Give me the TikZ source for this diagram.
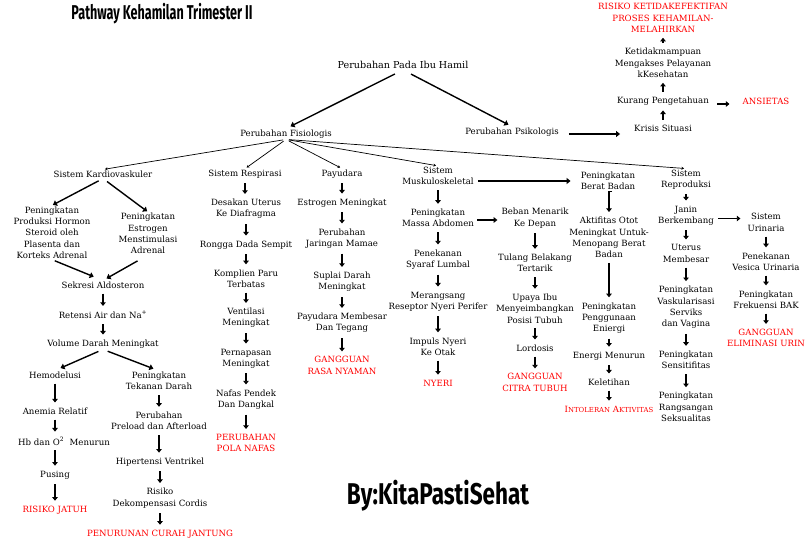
\documentclass[tikz,border=0pt]{standalone}
\usepackage{fontspec}
\setmainfont{DejaVu Serif}
\newfontfamily\headfont[FakeStretch=0.63]{Fira Sans}
\newfontfamily\byfont[FakeStretch=0.75]{Fira Sans}
\usetikzlibrary{arrows.meta}
\tikzset{
  txt/.style={font=\fontsize{8.6}{11.3}\selectfont, align=center, inner sep=1pt},
  rtxt/.style={txt, text=red},
  dn/.style={-{Triangle[length=3.6pt,width=5.5pt]}, line width=1.3pt, shorten <=4pt, shorten >=4pt},
  fan/.style={-{Stealth[length=2.6pt,width=3pt]}, line width=0.7pt},
  big/.style={-{Triangle[length=4pt,width=6pt]}, line width=1.4pt},
}
\newcommand{\vdn}[2]{\draw[dn] (#1.south) -- (#1.south |- #2.north);}
\newcommand{\vup}[2]{\draw[dn] (#1.north) -- (#1.north |- #2.south);}
\begin{document}
\begin{tikzpicture}[x=1pt,y=-1pt]
\useasboundingbox (0,0) rectangle (810,545);
% title
\node[inner sep=0pt] (title) at (162,14) {\headfont\bfseries\fontsize{20}{22}\selectfont Pathway Kehamilan Trimester II};
\node[inner sep=0pt] (by) at (438,496) {\byfont\bfseries\fontsize{30}{32}\selectfont By:KitaPastiSehat};

% top
\node[txt, font=\fontsize{9.6}{12}\selectfont] (top) at (403,65) {Perubahan Pada Ibu Hamil};
\node[txt] (fis) at (286,134) {Perubahan Fisiologis};
\node[txt] (psi) at (512,132) {Perubahan Psikologis};
\node[txt] (kri) at (663,128) {Krisis Situasi};
\node[txt] (kur) at (663,101) {Kurang Pengetahuan};
\node[rtxt] (ans) at (766,101) {ANSIETAS};
\node[txt] (ket) at (663,63) {Ketidakmampuan\\Mengakses Pelayanan\\kKesehatan};
\node[rtxt] (ris) at (663,18) {RISIKO KETIDAKEFEKTIFAN\\PROSES KEHAMILAN-\\MELAHIRKAN};

\draw[big, shorten <=9pt, shorten >=5pt] (top.south) -- (fis.north);
\draw[big, shorten <=9pt, shorten >=4pt] (top.south) -- (psi.north);
\draw[big, shorten <=9pt, shorten >=13pt] ([yshift=-2pt]psi.east) -- ([yshift=-2pt]psi.east -| kri.west);
\draw[dn, shorten <=7pt, shorten >=12pt] ([yshift=-3pt]kur.east) -- ([yshift=-3pt]kur.east -| ans.west);
\vup{kri}{kur}
\vup{kur}{ket}
\vup{ket}{ris}

% system row
\node[txt] (kar) at (103,174) {Sistem Kardiovaskuler};
\node[txt] (res) at (245,174) {Sistem Respirasi};
\node[txt] (pay) at (342,174) {Payudara};
\node[txt] (mus) at (438,176) {Sistem\\Muskuloskeletal};
\node[txt] (bbd) at (608,181) {Peningkatan\\Berat Badan};
\node[txt] (rep) at (686,179.5) {Sistem\\Reproduksi};

\foreach \t in {kar,res,pay,mus,rep}
  \draw[fan, shorten <=3pt, shorten >=2pt] (fis.south) -- (\t.north);
\draw[big, shorten <=3pt, shorten >=9pt] ([yshift=-5pt]mus.east) -- ([yshift=-5pt]mus.east -| bbd.west);

% kardiovaskuler
\node[txt] (prod) at (52,232.5) {Peningkatan\\Produksi Hormon\\Steroid oleh\\Plasenta dan\\Korteks Adrenal};
\node[txt] (estr) at (148,233.5) {Peningkatan\\Estrogen\\Menstimulasi\\Adrenal};
\node[txt] (sek) at (103,285) {Sekresi Aldosteron};
\node[txt] (ret) at (103,315) {Retensi Air dan Na\textsuperscript{+}};
\node[txt] (vol) at (103,344) {Volume Darah Meningkat};
\node[txt] (hem) at (55,375) {Hemodelusi};
\node[txt] (ane) at (55,411) {Anemia Relatif};
\node[txt] (hb) at (64,441) {Hb dan O\textsuperscript{2}\ \ Menurun};
\node[txt] (pus) at (55,475) {Pusing};
\node[rtxt] (rj) at (55,510) {RISIKO JATUH};
\node[txt] (tek) at (159,381) {Peningkatan\\Tekanan Darah};
\node[txt] (pre) at (159,421) {Perubahan\\Preload dan Afterload};
\node[txt] (hip) at (160,462) {Hipertensi Ventrikel};
\node[txt] (rdc) at (160,498) {Risiko\\Dekompensasi Cordis};
\node[rtxt] (pcj) at (160,534) {PENURUNAN CURAH JANTUNG};

\draw[big, shorten <=5pt, shorten >=1pt] (kar.south) -- (prod.north);
\draw[big, shorten <=5pt, shorten >=1pt] (kar.south) -- (estr.north);
\draw[big, shorten <=3pt, shorten >=10pt] (prod.south) -- (sek.north);
\draw[big, shorten <=12pt, shorten >=4pt] (estr.south) -- (sek.north);
\vdn{sek}{ret}
\vdn{ret}{vol}
\draw[big, shorten <=5pt, shorten >=6pt] (vol.south) -- (hem.north);
\draw[big, shorten <=5pt, shorten >=6pt] (vol.south) -- (tek.north);
\vdn{hem}{ane}
\draw[dn] (ane.south) -- (ane.south |- hb.north);
\draw[dn] (ane.south |- hb.south) -- (ane.south |- pus.north);
\vdn{pus}{rj}
\vdn{tek}{pre}
\vdn{pre}{hip}
\vdn{hip}{rdc}
\vdn{rdc}{pcj}

% respirasi
\node[txt] (des) at (246,209) {Desakan Uterus\\Ke Diafragma};
\node[txt] (ron) at (246,245) {Rongga Dada Sempit};
\node[txt] (kom) at (246,278.5) {Komplien Paru\\Terbatas};
\node[txt] (ven) at (246,318) {Ventilasi\\Meningkat};
\node[txt] (per) at (246,358.5) {Pernapasan\\Meningkat};
\node[txt] (naf) at (246,399.5) {Nafas Pendek\\Dan Dangkal};
\node[rtxt] (ppn) at (246,443) {PERUBAHAN\\POLA NAFAS};
\vdn{res}{des}
\vdn{des}{ron}
\vdn{ron}{kom}
\vdn{kom}{ven}
\vdn{ven}{per}
\vdn{per}{naf}
\vdn{naf}{ppn}

% payudara
\node[txt] (est) at (342,203) {Estrogen Meningkat};
\node[txt] (jar) at (342,238.5) {Perubahan\\Jaringan Mamae};
\node[txt] (sup) at (342,282) {Suplai Darah\\Meningkat};
\node[txt] (pmb) at (342,323) {Payudara Membesar\\Dan Tegang};
\node[rtxt] (grn) at (342,365.5) {GANGGUAN\\RASA NYAMAN};
\vdn{pay}{est}
\vdn{est}{jar}
\vdn{jar}{sup}
\vdn{sup}{pmb}
\vdn{pmb}{grn}

% muskuloskeletal
\node[txt] (mas) at (438,218) {Peningkatan\\Massa Abdomen};
\node[txt] (pen) at (438,259.5) {Penekanan\\Syaraf Lumbal};
\node[txt] (mer) at (438,301.5) {Merangsang\\Reseptor Nyeri Perifer};
\node[txt] (imp) at (438,346.5) {Impuls Nyeri\\Ke Otak};
\node[rtxt] (nye) at (438,383) {NYERI};
\vdn{mus}{mas}
\vdn{mas}{pen}
\vdn{pen}{mer}
\vdn{mer}{imp}
\vdn{imp}{nye}

\node[txt] (beb) at (535,218) {Beban Menarik\\Ke Depan};
\node[txt] (tul) at (535,263) {Tulang Belakang\\Tertarik};
\node[txt] (upa) at (535,308.5) {Upaya Ibu\\Menyeimbangkan\\Posisi Tubuh};
\node[txt] (lor) at (535,348) {Lordosis};
\node[rtxt] (gct) at (535,382.5) {GANGGUAN\\CITRA TUBUH};
\draw[dn, shorten <=2pt, shorten >=3pt] ([yshift=-2pt]mas.east) -- ([yshift=-2pt]mas.east -| beb.west);
\vdn{beb}{tul}
\vdn{tul}{upa}
\vdn{upa}{lor}
\vdn{lor}{gct}

% berat badan
\node[txt] (akt) at (609,237.5) {Aktifitas Otot\\Meningkat Untuk-\\Menopang Berat\\Badan};
\node[txt] (png) at (609,318) {Peningkatan\\Penggunaan\\Eniergi};
\node[txt] (enm) at (609,356) {Energi Menurun};
\node[txt] (kel) at (609,382) {Keletihan};
\node[rtxt] (int) at (609,409) {I{\fontsize{6.9}{8}\selectfont NTOLERAN} A{\fontsize{6.9}{8}\selectfont KTIVITAS}};
\draw[dn] (bbd.south) -- (bbd.south -| akt.north) -- (akt.north);
\vdn{akt}{png}
\vdn{png}{enm}
\vdn{enm}{kel}
\vdn{kel}{int}

% reproduksi
\node[txt] (jan) at (686,215.5) {Janin\\Berkembang};
\node[txt] (ute) at (686,253.5) {Uterus\\Membesar};
\node[txt] (vas) at (686,307.5) {Peningkatan\\Vaskularisasi\\Serviks\\dan Vagina};
\node[txt] (sen) at (686,360) {Peningkatan\\Sensitifitas};
\node[txt] (ran) at (686,407) {Peningkatan\\Rangsangan\\Seksualitas};
\vdn{rep}{jan}
\vdn{jan}{ute}
\vdn{ute}{vas}
\vdn{vas}{sen}
\vdn{sen}{ran}

% urinaria
\node[txt] (uri) at (766,222.5) {Sistem\\Urinaria};
\node[txt] (pve) at (766,261.5) {Penekanan\\Vesica Urinaria};
\node[txt] (pfk) at (766,299.5) {Peningkatan\\Frekuensi BAK};
\node[rtxt] (gel) at (766,338) {GANGGUAN\\ELIMINASI URIN};
\draw[dn, shorten <=3pt, shorten >=6pt] ([yshift=-3pt]jan.east) -- ([yshift=-3pt]jan.east -| uri.west);
\vdn{uri}{pve}
\vdn{pve}{pfk}
\vdn{pfk}{gel}
\end{tikzpicture}
\end{document}
